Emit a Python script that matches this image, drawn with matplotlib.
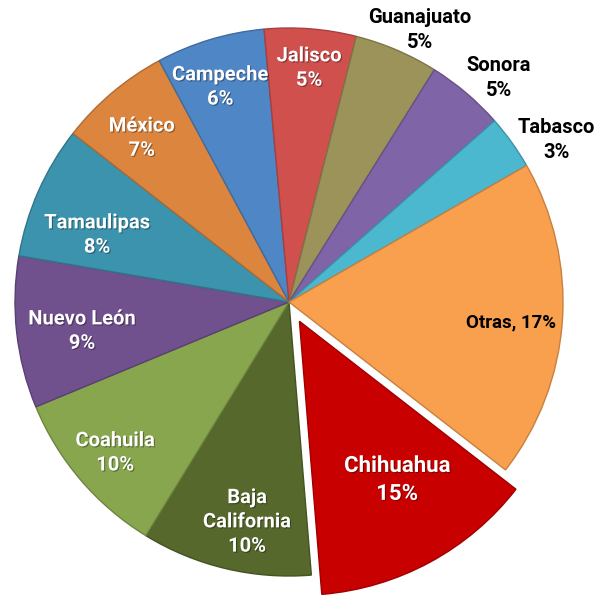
import matplotlib
matplotlib.use("Agg")
import matplotlib.pyplot as plt
import matplotlib.patheffects as pe
import numpy as np

# Data (clockwise order, starting with Chihuahua)
states = ["Chihuahua", "Baja\nCalifornia", "Coahuila", "Nuevo León", "Tamaulipas",
          "México", "Campeche", "Jalisco", "Guanajuato", "Sonora", "Tabasco", "Otras"]
shares = [13.2, 10.05, 10.0, 8.95, 7.85, 6.6, 6.4, 5.4, 4.95, 4.6, 3.2, 18.8]
pct_labels = ["15%", "10%", "10%", "9%", "8%", "7%", "6%", "5%", "5%", "5%", "3%", "17%"]

colors = ["#C80000", "#56682C", "#88A64E", "#71508E", "#3B93AE", "#DC853F",
          "#4F86C6", "#CF504D", "#9B9359", "#8064A8", "#4BB8D0", "#F9A04E"]
explode = [0.08, 0, 0, 0, 0, 0, 0, 0, 0, 0, 0, 0]
# label placement: radius factor and angular nudge (degrees) from wedge middle
label_r = [0.68, 0.817, 0.84, 0.763, 0.742, 0.804, 0.824, 0.857, 1.102, 1.12, 1.14, 0.813]
label_dt = [3.2, 2.6, 0.45, 1.6, 4.6, 1.8, 1.0, -0.4, -2.6, -2.8, -4.4, -1.2]
label_dark = [False, False, False, False, False, False, False, False, True, True, True, True]

fig = plt.figure(figsize=(5.97, 5.96), dpi=100)
ax = fig.add_axes([0, 0, 1, 1])
R = 274.0
cx, cy = 289.0, 596 - 302.0

def darker(c, f=0.75):
    rgb = np.array(matplotlib.colors.to_rgb(c))
    return tuple(rgb * f)

wedges, _ = ax.pie(shares, colors=colors, explode=explode, startangle=-37.8,
                   counterclock=False, radius=1.0,
                   wedgeprops=dict(linewidth=1.0))
for w, c in zip(wedges, colors):
    w.set_edgecolor(darker(c, 0.8))

for i, w in enumerate(wedges):
    ang = np.deg2rad((w.theta1 + w.theta2) / 2 + label_dt[i])
    ox, oy = w.center
    r = label_r[i]
    x = ox + r * np.cos(ang)
    y = oy + r * np.sin(ang)
    name = states[i]
    if name == "Otras":
        txt = f"{name}, {pct_labels[i]}"
        fs = 13.5
    else:
        txt = f"{name}\n{pct_labels[i]}"
        fs = 14.5 if name != "Chihuahua" else 16
    col = "black" if label_dark[i] else "white"
    effects = [] if label_dark[i] else [pe.withSimplePatchShadow(offset=(0.8, -0.8),
                                                                  shadow_rgbFace="black",
                                                                  alpha=0.35)]
    ax.text(x, y, txt, ha="center", va="center", color=col, fontsize=fs,
            fontfamily=["Roboto", "DejaVu Sans"], fontweight="bold",
            linespacing=1.35, path_effects=effects)

ax.set_xlim(-cx / R, (597 - cx) / R)
ax.set_ylim(-cy / R, (596 - cy) / R)
ax.set_aspect("auto")
ax.axis("off")
fig.savefig("out.png", dpi=100)
